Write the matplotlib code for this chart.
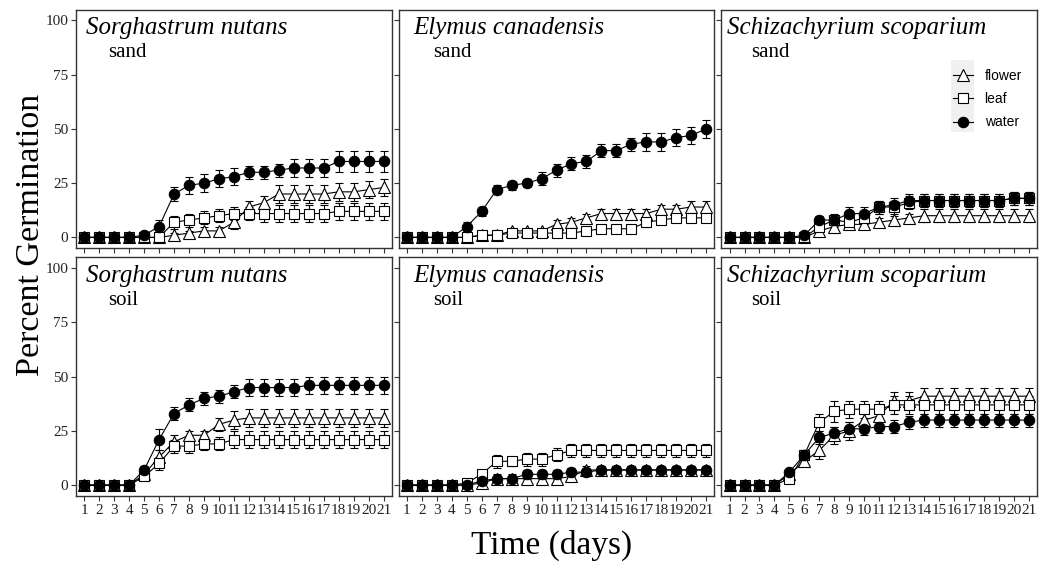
import matplotlib
matplotlib.use("Agg")
import matplotlib.pyplot as plt
from matplotlib.lines import Line2D
from matplotlib.patches import Rectangle
import numpy as np

days = np.arange(1, 22)
species = ["Sorghastrum nutans", "Elymus canadensis", "Schizachyrium scoparium"]
substrates = ["sand", "soil"]
treatments = ["flower", "leaf", "water"]

# percent germination (mean) and error
sand_sorg_flower = [0, 0, 0, 0, 0, 0, 1, 2, 3, 3, 7, 14, 16, 20, 20, 20, 20, 21, 21, 22, 23]
sand_sorg_flower_err = [0, 0, 0, 0, 0, 0, 1, 1, 2, 2, 3, 3, 3, 4, 4, 4, 4, 4, 4, 4, 4]
sand_sorg_leaf = [0, 0, 0, 0, 0, 0, 7, 8, 9, 10, 11, 11, 11, 11, 11, 11, 11, 12, 12, 12, 12]
sand_sorg_leaf_err = [0, 0, 0, 0, 0, 0, 3, 3, 3, 3, 3, 3, 4, 4, 4, 4, 4, 4, 4, 4, 4]
sand_sorg_water = [0, 0, 0, 0, 1, 5, 20, 24, 25, 27, 28, 30, 30, 31, 32, 32, 32, 35, 35, 35, 35]
sand_sorg_water_err = [0, 0, 0, 0, 1, 3, 3, 4, 4, 4, 4, 3, 3, 3, 4, 4, 4, 5, 5, 5, 5]

sand_elym_flower = [0, 0, 0, 0, 0, 1, 1, 3, 3, 3, 6, 7, 9, 11, 11, 11, 11, 13, 13, 14, 14]
sand_elym_flower_err = [0, 0, 0, 0, 0, 1, 1, 1, 1, 1, 2, 2, 2, 2, 2, 2, 2, 2, 2, 3, 3]
sand_elym_leaf = [0, 0, 0, 0, 0, 1, 1, 2, 2, 2, 2, 2, 3, 4, 4, 4, 7, 8, 9, 9, 9]
sand_elym_leaf_err = [0, 0, 0, 0, 0, 1, 1, 1, 1, 1, 1, 1, 1, 1, 1, 1, 2, 2, 2, 2, 2]
sand_elym_water = [0, 0, 0, 0, 5, 12, 22, 24, 25, 27, 31, 34, 35, 40, 40, 43, 44, 44, 46, 47, 50]
sand_elym_water_err = [0, 0, 0, 0, 2, 2, 2, 2, 2, 3, 3, 3, 3, 3, 3, 3, 4, 4, 4, 4, 4]

sand_schi_flower = [0, 0, 0, 0, 0, 0, 3, 5, 6, 6, 7, 8, 9, 10, 10, 10, 10, 10, 10, 10, 10]
sand_schi_flower_err = [0, 0, 0, 0, 0, 0, 2, 2, 2, 2, 2, 2, 2, 3, 3, 3, 3, 3, 3, 3, 3]
sand_schi_leaf = [0, 0, 0, 0, 0, 0, 5, 8, 7, 9, 14, 14, 16, 17, 17, 17, 17, 17, 17, 18, 18]
sand_schi_leaf_err = [0, 0, 0, 0, 0, 0, 2, 3, 3, 3, 3, 3, 3, 3, 3, 3, 3, 3, 3, 3, 3]
sand_schi_water = [0, 0, 0, 0, 0, 1, 8, 8, 11, 11, 14, 15, 17, 17, 17, 17, 17, 17, 17, 18, 18]
sand_schi_water_err = [0, 0, 0, 0, 0, 1, 2, 2, 3, 3, 3, 3, 3, 3, 3, 3, 3, 3, 3, 3, 3]

soil_sorg_flower = [0, 0, 0, 0, 5, 13, 20, 23, 23, 28, 30, 31, 31, 31, 31, 31, 31, 31, 31, 31, 31]
soil_sorg_flower_err = [0, 0, 0, 0, 1, 3, 3, 2, 2, 3, 4, 4, 4, 4, 4, 4, 4, 4, 4, 4, 4]
soil_sorg_leaf = [0, 0, 0, 0, 4, 10, 18, 18, 19, 19, 21, 21, 21, 21, 21, 21, 21, 21, 21, 21, 21]
soil_sorg_leaf_err = [0, 0, 0, 0, 1, 3, 3, 3, 3, 3, 4, 4, 4, 4, 4, 4, 4, 4, 4, 4, 4]
soil_sorg_water = [0, 0, 0, 0, 7, 21, 33, 37, 40, 41, 43, 45, 45, 45, 45, 46, 46, 46, 46, 46, 46]
soil_sorg_water_err = [0, 0, 0, 0, 2, 5, 3, 3, 3, 3, 3, 4, 4, 4, 4, 4, 4, 4, 4, 4, 4]

soil_elym_flower = [0, 0, 0, 0, 0, 1, 3, 3, 3, 3, 3, 4, 7, 7, 7, 7, 7, 7, 7, 7, 7]
soil_elym_flower_err = [0, 0, 0, 0, 0, 1, 1, 1, 2, 2, 2, 2, 2, 2, 2, 2, 2, 2, 2, 2, 2]
soil_elym_leaf = [0, 0, 0, 0, 1, 5, 11, 11, 12, 12, 14, 16, 16, 16, 16, 16, 16, 16, 16, 16, 16]
soil_elym_leaf_err = [0, 0, 0, 0, 1, 2, 3, 2, 3, 3, 3, 3, 3, 3, 3, 3, 3, 3, 3, 3, 3]
soil_elym_water = [0, 0, 0, 0, 0, 2, 3, 3, 5, 5, 5, 6, 6, 7, 7, 7, 7, 7, 7, 7, 7]
soil_elym_water_err = [0, 0, 0, 0, 0, 1, 2, 2, 2, 2, 2, 2, 2, 2, 2, 2, 2, 2, 2, 2, 2]

soil_schi_flower = [0, 0, 0, 0, 5, 11, 16, 23, 25, 30, 32, 39, 39, 41, 41, 41, 41, 41, 41, 41, 41]
soil_schi_flower_err = [0, 0, 0, 0, 1, 2, 4, 4, 4, 4, 4, 4, 4, 4, 4, 4, 4, 4, 4, 4, 4]
soil_schi_leaf = [0, 0, 0, 0, 3, 14, 29, 34, 35, 35, 35, 37, 37, 37, 37, 37, 37, 37, 37, 37, 37]
soil_schi_leaf_err = [0, 0, 0, 0, 1, 2, 4, 5, 4, 4, 4, 4, 4, 4, 4, 4, 4, 4, 4, 4, 4]
soil_schi_water = [0, 0, 0, 0, 6, 14, 22, 24, 26, 26, 27, 27, 29, 30, 30, 30, 30, 30, 30, 30, 30]
soil_schi_water_err = [0, 0, 0, 0, 1, 2, 3, 3, 3, 3, 3, 3, 3, 3, 3, 3, 3, 3, 3, 3, 3]

panels = [
    [(sand_sorg_flower, sand_sorg_flower_err, sand_sorg_leaf, sand_sorg_leaf_err, sand_sorg_water, sand_sorg_water_err),
     (sand_elym_flower, sand_elym_flower_err, sand_elym_leaf, sand_elym_leaf_err, sand_elym_water, sand_elym_water_err),
     (sand_schi_flower, sand_schi_flower_err, sand_schi_leaf, sand_schi_leaf_err, sand_schi_water, sand_schi_water_err)],
    [(soil_sorg_flower, soil_sorg_flower_err, soil_sorg_leaf, soil_sorg_leaf_err, soil_sorg_water, soil_sorg_water_err),
     (soil_elym_flower, soil_elym_flower_err, soil_elym_leaf, soil_elym_leaf_err, soil_elym_water, soil_elym_water_err),
     (soil_schi_flower, soil_schi_flower_err, soil_schi_leaf, soil_schi_leaf_err, soil_schi_water, soil_schi_water_err)],
]

styles = {
    "flower": dict(marker="^", markersize=8.5, mfc="white"),
    "leaf": dict(marker="s", markersize=7.5, mfc="white"),
    "water": dict(marker="o", markersize=7.5, mfc="black"),
}

serif = "Liberation Serif"
edge = "#333333"

fig, axes = plt.subplots(2, 3, figsize=(10.46, 5.63), dpi=100, sharex=True, sharey=True)
fig.subplots_adjust(left=0.0727, right=0.9914, top=0.983, bottom=0.119, wspace=0.022, hspace=0.038)

title_dx = [10, 15, 6]
sub_dx = [32, 34, 30]

for r in range(2):
    for c in range(3):
        ax = axes[r, c]
        vals = panels[r][c]
        for k, t in enumerate(treatments):
            y = vals[2 * k]
            e = vals[2 * k + 1]
            ax.errorbar(days, y, yerr=e, color="black", lw=0.8, elinewidth=0.8,
                        capsize=3.2, capthick=0.8, mec="black", mew=0.8, **styles[t])
        ax.set_xlim(0.45, 21.55)
        ax.set_ylim(-5, 105)
        ax.set_yticks([0, 25, 50, 75, 100])
        ax.set_xticks(days)
        ax.set_xticklabels([str(d) for d in days])
        for s in ax.spines.values():
            s.set_color(edge)
            s.set_linewidth(1.0)
        ax.tick_params(length=3.5, width=0.8, color=edge, labelcolor="#222222",
                       labelsize=11, pad=2)
        for lab in ax.get_xticklabels() + ax.get_yticklabels():
            lab.set_fontfamily(serif)
        w = ax.get_window_extent().width
        ax.text(title_dx[c] / w, 0.922, species[c], transform=ax.transAxes,
                fontfamily=serif, fontstyle="italic", fontsize=18, va="center", ha="left")
        ax.text(sub_dx[c] / w, 0.82, substrates[r], transform=ax.transAxes,
                fontfamily=serif, fontsize=15, va="center", ha="left")

# legend in the top-right panel
ax = axes[0, 2]
handles = [Line2D([], [], color="black", lw=0.8, mec="black", mew=0.8, **styles[t]) for t in treatments]
ax.add_patch(Rectangle((0.727, 0.486), 0.073, 0.302, transform=ax.transAxes,
                       facecolor="#f0f0f0", edgecolor="none", zorder=0))
leg = ax.legend(handles, treatments, loc="upper left", bbox_to_anchor=(0.715, 0.775),
                frameon=False, handlelength=1.5, handletextpad=0.8, labelspacing=0.67,
                prop={"family": "Liberation Sans", "size": 10}, borderaxespad=0)

fig.text(0.029, 0.583, "Percent Germination", rotation=90, ha="center", va="center",
         fontfamily=serif, fontsize=24.5)
fig.text(0.527, 0.032, "Time (days)", ha="center", va="center",
         fontfamily=serif, fontsize=24)

fig.savefig("out.png", dpi=100)
